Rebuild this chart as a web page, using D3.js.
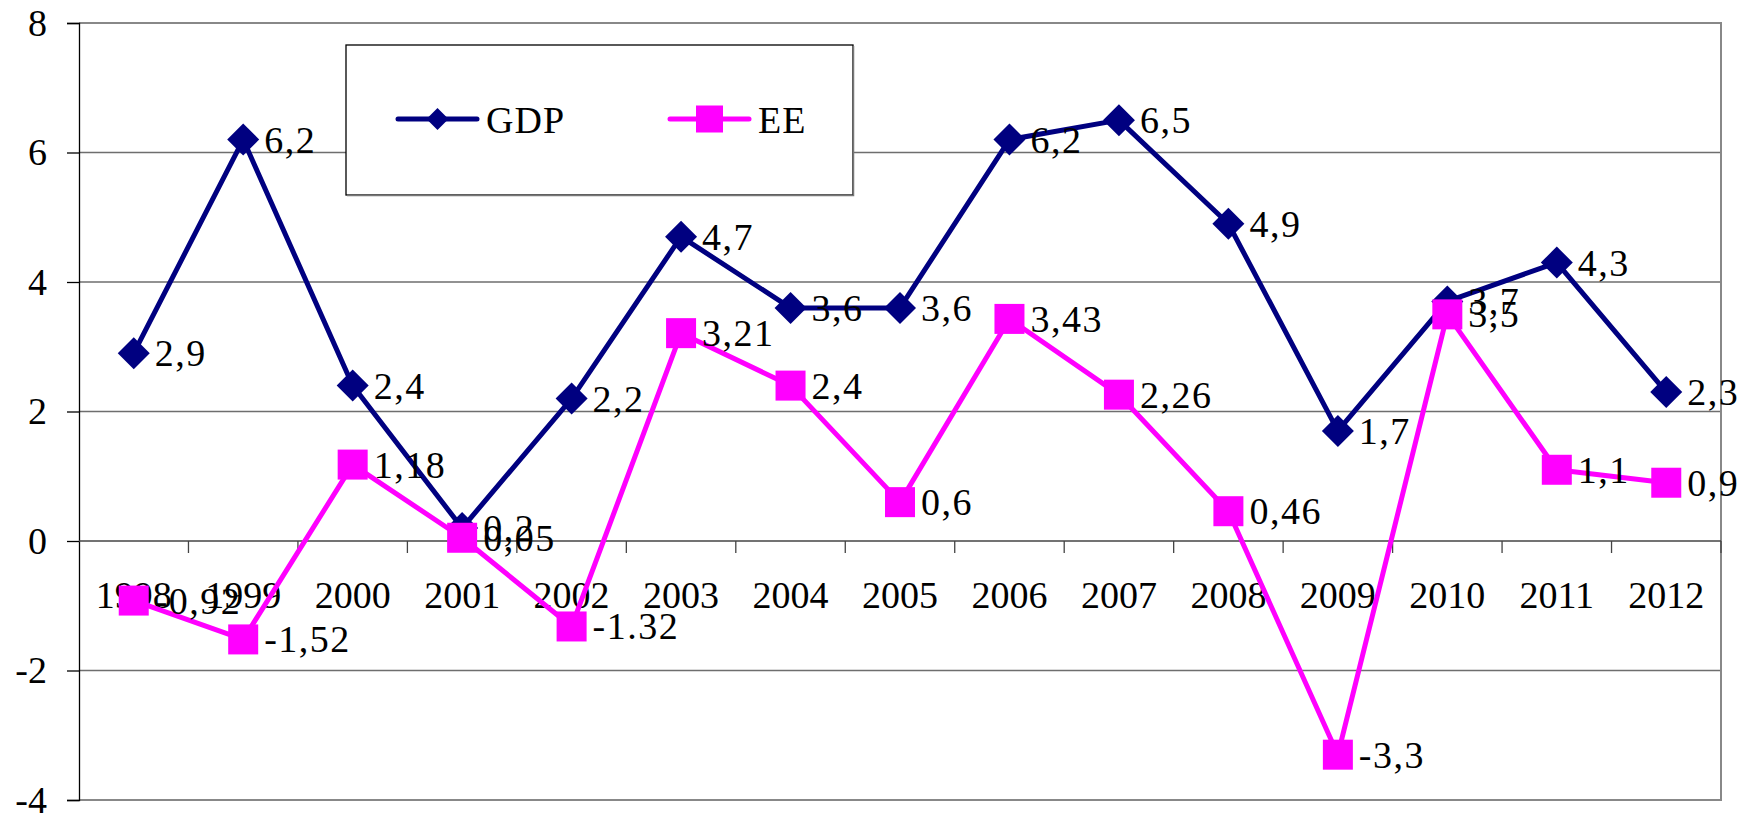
<!DOCTYPE html>
<html>
<head>
<meta charset="utf-8">
<script src="https://cdn.jsdelivr.net/npm/d3@7"></script>
<style>
  html, body { margin: 0; padding: 0; background: #fff; }
  svg { display: block; }
  svg text { font-family: "Liberation Serif", "Times New Roman", Tinos, "DejaVu Serif", serif !important; }
</style>
</head>
<body>
<svg id="chart" width="1754" height="814"></svg>
<script>
const years = ["1998","1999","2000","2001","2002","2003","2004","2005","2006","2007","2008","2009","2010","2011","2012"];
const gdp = [2.9, 6.2, 2.4, 0.2, 2.2, 4.7, 3.6, 3.6, 6.2, 6.5, 4.9, 1.7, 3.7, 4.3, 2.3];
const ee = [-0.92, -1.52, 1.18, 0.05, -1.32, 3.21, 2.4, 0.6, 3.43, 2.26, 0.46, -3.3, 3.5, 1.1, 0.9];
const gdpLabels = ["2,9","6,2","2,4","0,2","2,2","4,7","3,6","3,6","6,2","6,5","4,9","1,7","3,7","4,3","2,3"];
const eeLabels = ["-0,92","-1,52","1,18","0,05","-1.32","3,21","2,4","0,6","3,43","2,26","0,46","-3,3","3,5","1,1","0,9"];
const yTicks = [-4, -2, 0, 2, 4, 6, 8];
const yTickLabels = ["-4","-2","0","2","4","6","8"];
const seriesNames = ["GDP", "EE"];
const seriesColors = ["#000080", "#FF00FF"];

(function () {
const svg = d3.select("#chart");
const pL = 79, pR = 1721, pT = 23, pB = 800;
const x = d3.scaleBand().domain(years).range([pL, pR]).padding(0);
const y = d3.scaleLinear().domain([-4, 8]).range([pB, pT]);
const cx = d => x(d) + x.bandwidth() / 2;

// gridlines
svg.append("g").selectAll("line").data(yTicks.filter(v => v !== 8 && v !== -4 && v !== 0)).join("line")
  .attr("x1", pL).attr("x2", pR)
  .attr("y1", d => y(d)).attr("y2", d => y(d))
  .attr("stroke", "#6e6e6e").attr("stroke-width", 1.3);

// plot border (top, right, bottom)
svg.append("path")
  .attr("d", `M${pL},${y(8)}H${pR}V${y(-4)}H${pL}`)
  .attr("fill", "none").attr("stroke", "#888").attr("stroke-width", 2);

// y axis
const yAxis = d3.axisLeft(y).tickValues(yTicks).tickSize(12).tickPadding(20)
  .tickFormat((d, i) => yTickLabels[i]);
const ga = svg.append("g").attr("transform", `translate(${pL},0)`).call(yAxis);
ga.attr("font-size", 38);
ga.select(".domain").attr("stroke", "#000").attr("stroke-width", 1.3);
ga.selectAll(".tick line").attr("stroke", "#000").attr("stroke-width", 1.3);
ga.selectAll(".tick text").attr("fill", "#000");

// x axis line at 0
svg.append("line").attr("x1", pL).attr("x2", pR).attr("y1", y(0)).attr("y2", y(0))
  .attr("stroke", "#444").attr("stroke-width", 1.5);
// category ticks at band boundaries
svg.append("g").selectAll("line").data(years.slice(1).concat(["end"])).join("line")
  .attr("x1", d => d === "end" ? pR : x(d)).attr("x2", d => d === "end" ? pR : x(d))
  .attr("y1", y(0)).attr("y2", y(0) + 12)
  .attr("stroke", "#444").attr("stroke-width", 1.3);

// series
const gdpPts = years.map((yr, i) => [cx(yr), y(gdp[i])]);
const eePts = years.map((yr, i) => [cx(yr), y(ee[i])]);
const line = d3.line();

svg.append("path").attr("d", line(gdpPts)).attr("fill", "none")
  .attr("stroke", seriesColors[0]).attr("stroke-width", 5).attr("stroke-linejoin", "round");
svg.append("g").selectAll("path").data(gdpPts).join("path")
  .attr("d", d => `M${d[0]},${d[1]-16}L${d[0]+16},${d[1]}L${d[0]},${d[1]+16}L${d[0]-16},${d[1]}Z`)
  .attr("fill", seriesColors[0]);

// category labels
svg.append("g").selectAll("text").data(years).join("text")
  .attr("x", d => cx(d)).attr("y", 608)
  .attr("text-anchor", "middle").attr("font-size", 38).attr("fill", "#000")
  .text(d => d);

svg.append("path").attr("d", line(eePts)).attr("fill", "none")
  .attr("stroke", seriesColors[1]).attr("stroke-width", 5).attr("stroke-linejoin", "round");
svg.append("g").selectAll("rect").data(eePts).join("rect")
  .attr("x", d => d[0] - 15).attr("y", d => d[1] - 15)
  .attr("width", 30).attr("height", 30)
  .attr("fill", seriesColors[1]);

// data labels
svg.append("g").selectAll("text").data(gdpPts).join("text")
  .attr("x", d => d[0] + 21).attr("y", d => d[1] + 13)
  .attr("font-size", 38).attr("letter-spacing", 1.5).attr("fill", "#000")
  .text((d, i) => gdpLabels[i]);
svg.append("g").selectAll("text").data(eePts).join("text")
  .attr("x", d => d[0] + 21).attr("y", d => d[1] + 13)
  .attr("font-size", 38).attr("letter-spacing", 1.5).attr("fill", "#000")
  .text((d, i) => eeLabels[i]);

// legend
const lg = svg.append("g");
lg.append("rect").attr("x", 346).attr("y", 45).attr("width", 507).attr("height", 150)
  .attr("fill", "#fff").attr("stroke", "#000").attr("stroke-width", 1.3);
lg.append("path").attr("d", "M347,195.5H853.5V46").attr("fill", "none").attr("stroke", "#777").attr("stroke-width", 1.5);
const legendX = [398, 670];
seriesNames.forEach((name, i) => {
  const lx = legendX[i], ly = 119;
  lg.append("line").attr("x1", lx).attr("x2", lx + 79).attr("y1", ly).attr("y2", ly)
    .attr("stroke", seriesColors[i]).attr("stroke-width", 5).attr("stroke-linecap", "round");
  const mx = lx + 39.5;
  if (i === 0) {
    lg.append("path").attr("d", `M${mx},${ly-11}L${mx+11},${ly}L${mx},${ly+11}L${mx-11},${ly}Z`).attr("fill", seriesColors[i]);
  } else {
    lg.append("rect").attr("x", mx - 13.5).attr("y", ly - 13.5).attr("width", 27).attr("height", 27).attr("fill", seriesColors[i]);
  }
  lg.append("text").attr("x", lx + 88).attr("y", 132.5).attr("font-size", 38).attr("letter-spacing", 1).attr("fill", "#000").text(name);
});
})();
</script>
</body>
</html>
